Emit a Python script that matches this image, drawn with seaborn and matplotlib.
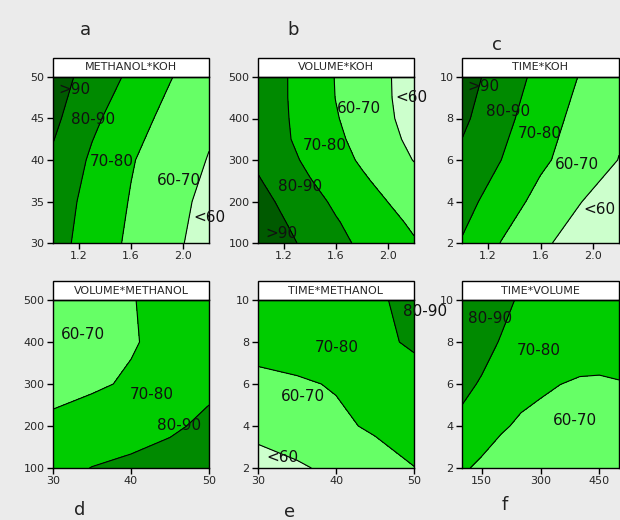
import numpy as np
import pandas as pd
import matplotlib
matplotlib.use("Agg")
import matplotlib.pyplot as plt
from matplotlib.patches import Rectangle
import seaborn as sns

sns.set_style("white")
plt.rcParams['font.family'] = ['DejaVu Sans']

# ---------------- data ----------------
koh = [1.0, 1.3, 1.6, 1.9, 2.2]
koh_fine = [1.0, 1.2, 1.4, 1.6, 1.8, 2.0, 2.2]
methanol = [30, 35, 40, 45, 50]
volume = [100, 200, 300, 400, 500]
volume_fine = [100, 150, 200, 250, 300, 350, 400, 450, 500]
time_h = [2, 4, 6, 8, 10]

# rows = y values (low -> high), columns = x values
z_methanol_koh = [
    [83.8, 75.7, 68.2, 62.2, 56.2],
    [84.8, 77.0, 69.4, 63.4, 57.4],
    [88.5, 78.5, 70.7, 64.7, 59.6],
    [92.2, 82.0, 74.1, 67.1, 61.5],
    [94.3, 86.2, 78.1, 70.5, 63.8],
]
# rows: volume 100..500 step 50 ; columns: koh_fine
z_volume_koh = [
    [97.4, 92.5, 87.5, 82.6, 78.3, 74.5, 70.8],
    [95.2, 90.4, 85.5, 80.7, 76.5, 72.5, 68.5],
    [93.3, 88.2, 83.2, 78.4, 74.2, 69.9, 65.7],
    [90.8, 85.6, 80.4, 75.9, 71.4, 67.1, 62.9],
    [88.3, 83.0, 78.0, 73.4, 68.8, 64.3, 59.7],
    [86.8, 81.3, 76.5, 71.8, 67.1, 62.4, 57.8],
    [86.3, 81.0, 75.8, 70.6, 65.9, 61.2, 56.6],
    [86.5, 80.8, 75.3, 69.8, 65.3, 60.7, 56.2],
    [86.5, 80.8, 75.2, 69.6, 65.1, 60.6, 56.1],
]
z_time_koh = [
    [79.3, 69.7, 62.1, 55.2, 48.5],
    [83.7, 74.9, 67.1, 60.4, 53.8],
    [88.0, 80.0, 71.7, 65.6, 59.8],
    [91.9, 83.0, 74.6, 67.1, 61.5],
    [94.4, 85.6, 77.2, 69.6, 63.0],
]
z_volume_methanol = [
    [77.0, 80.2, 82.0, 84.0, 86.0],
    [72.0, 74.0, 76.0, 78.5, 82.0],
    [67.0, 68.8, 71.0, 74.0, 78.0],
    [64.0, 66.5, 69.3, 72.5, 75.0],
    [65.0, 67.0, 69.7, 72.0, 74.0],
]
z_time_methanol = [
    [54.8, 58.6, 62.4, 66.2, 69.8],
    [64.0, 66.2, 68.4, 71.2, 74.5],
    [68.2, 69.0, 70.6, 73.0, 76.5],
    [72.5, 74.0, 76.0, 78.0, 81.2],
    [74.0, 75.5, 77.0, 79.0, 81.9],
]
# rows: time 2..10 ; columns: volume_fine
z_time_volume = [
    [71.0, 68.6, 66.6, 65.4, 64.7, 64.0, 63.9, 64.0, 64.5],
    [77.0, 73.7, 70.8, 69.0, 67.9, 67.0, 66.7, 66.8, 67.3],
    [83.0, 78.9, 75.0, 72.2, 71.1, 70.05, 69.4, 69.3, 69.7],
    [87.5, 84.1, 79.2, 75.3, 74.2, 73.2, 72.8, 72.6, 72.8],
    [89.6, 87.5, 83.4, 78.4, 77.3, 76.5, 76.2, 76.0, 76.0],
]

levels = [0, 60, 70, 80, 90, 200]
level_colors = ["#ccffcc", "#66ff66", "#00cc00", "#008a00", "#005a00"]

titles = ["METHANOL*KOH", "VOLUME*KOH", "TIME*KOH",
          "VOLUME*METHANOL", "TIME*METHANOL", "TIME*VOLUME"]
letters = ["a", "b", "c", "d", "e", "f"]

panels = [
    (koh, methanol, z_methanol_koh, [1.2, 1.6, 2.0], ["1.2", "1.6", "2.0"], [30, 35, 40, 45, 50]),
    (koh_fine, volume_fine, z_volume_koh, [1.2, 1.6, 2.0], ["1.2", "1.6", "2.0"], [100, 200, 300, 400, 500]),
    (koh, time_h, z_time_koh, [1.2, 1.6, 2.0], ["1.2", "1.6", "2.0"], [2, 4, 6, 8, 10]),
    (methanol, volume, z_volume_methanol, [30, 40, 50], ["30", "40", "50"], [100, 200, 300, 400, 500]),
    (methanol, time_h, z_time_methanol, [30, 40, 50], ["30", "40", "50"], [2, 4, 6, 8, 10]),
    (volume_fine, time_h, z_time_volume, [150, 300, 450], ["150", "300", "450"], [2, 4, 6, 8, 10]),
]

# region labels: (text, x, y)
region_labels = [
    [(">90", 1.167, 48.5), ("80-90", 1.31, 44.9), ("70-80", 1.45, 39.8),
     ("60-70", 1.97, 37.5), ("<60", 2.2, 33.1)],
    [("60-70", 1.78, 425), ("70-80", 1.51, 334), ("80-90", 1.32, 236),
     (">90", 1.18, 124), ("<60", 2.18, 451)],
    [(">90", 1.164, 9.52), ("80-90", 1.354, 8.32), ("70-80", 1.594, 7.28),
     ("60-70", 1.877, 5.76), ("<60", 2.05, 3.6)],
    [("60-70", 33.8, 419), ("70-80", 42.6, 276), ("80-90", 46.2, 202)],
    [("70-80", 40.1, 7.74), ("60-70", 35.7, 5.42), ("<60", 33.1, 2.5),
     ("80-90", 51.4, 9.43)],
    [("80-90", 171.6, 9.13), ("70-80", 296, 7.58), ("60-70", 389, 4.24)],
]

# ---------------- figure ----------------
fig = plt.figure(figsize=(6.2, 5.2), dpi=100)
fig.patch.set_facecolor("#ebebeb")

W, H = 620, 520
boxes = [
    (53, 77, 156, 166), (258, 77, 156, 166), (462, 77, 157, 166),
    (53, 300, 156, 168), (258, 300, 156, 168), (462, 300, 157, 168),
]
letter_pos = [(85, 30), (293, 30), (497, 45), (80, 510), (290, 512), (505, 505)]

for i, (xs, ys, zz, xt, xtl, yt) in enumerate(panels):
    l, t, w, h = boxes[i]
    ax = fig.add_axes([l / W, 1 - (t + h) / H, w / W, h / H])
    X, Y = np.meshgrid(xs, ys)
    Z = np.array(zz)
    ax.contourf(X, Y, Z, levels=levels, colors=level_colors)
    ax.contour(X, Y, Z, levels=levels[1:-1], colors="black", linewidths=0.8)
    ax.set_xlim(xs[0], xs[-1])
    ax.set_ylim(ys[0], ys[-1])
    ax.set_xticks(xt)
    ax.set_xticklabels(xtl)
    ax.set_yticks(yt)
    ax.tick_params(axis="both", which="both", direction="out", length=4,
                   width=1, labelsize=8, color="black", pad=2,
                   bottom=True, left=True)
    for sp in ax.spines.values():
        sp.set_color("black")
        sp.set_linewidth(1)
    # title box
    th = 19 / h
    ax.add_patch(Rectangle((0, 1), 1, th, transform=ax.transAxes,
                           facecolor="white", edgecolor="black", lw=1,
                           clip_on=False))
    ax.text(0.5, 1 + th / 2, titles[i], transform=ax.transAxes,
            ha="center", va="center", fontsize=8)
    for txt, x, y in region_labels[i]:
        ax.text(x, y, txt, ha="center", va="center", fontsize=11,
                color="#111111", clip_on=False)
    lx, ly = letter_pos[i]
    fig.text(lx / W, 1 - ly / H, letters[i], ha="center", va="center",
             fontsize=13, color="#222222")

fig.savefig("out.png", dpi=100, facecolor=fig.get_facecolor())
